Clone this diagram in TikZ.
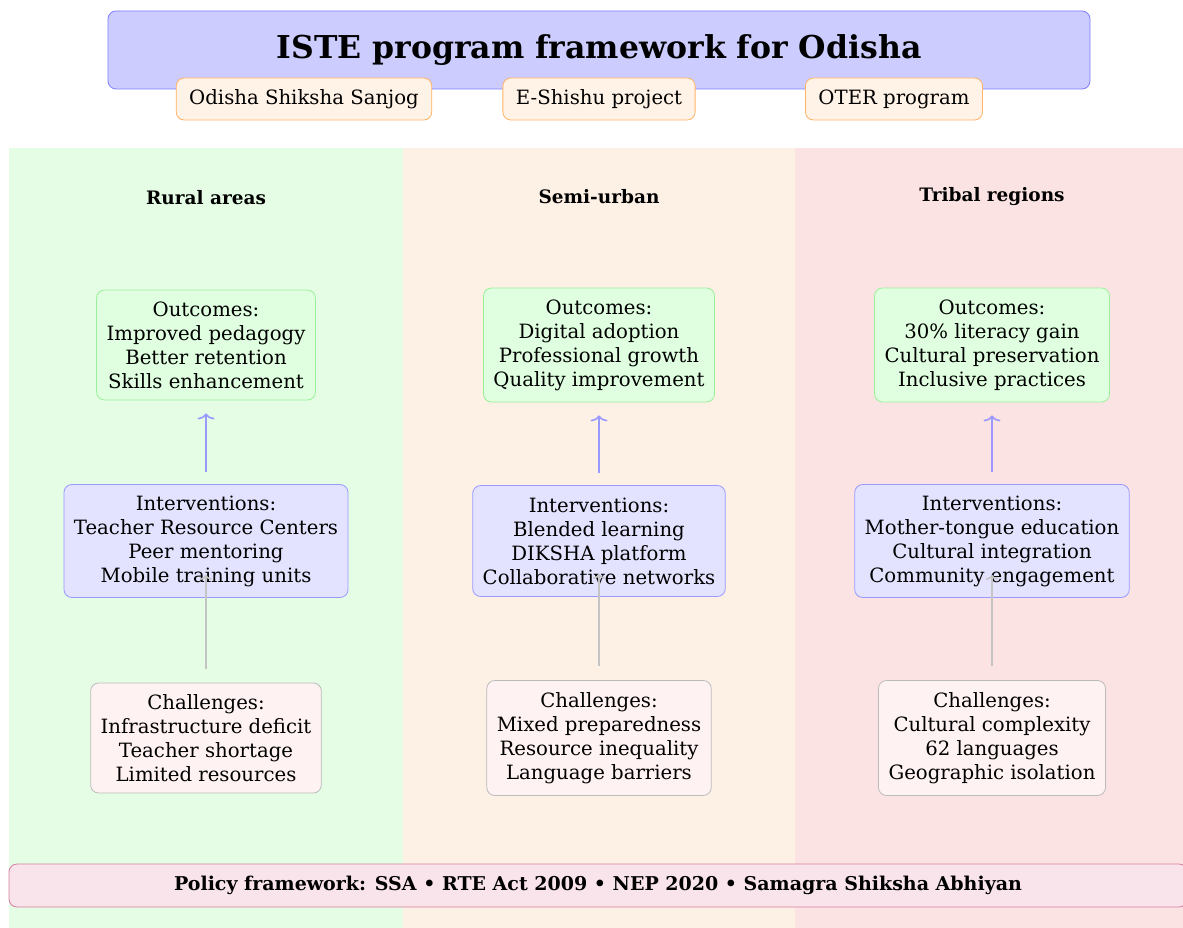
\documentclass[tikz,border=0pt]{standalone}
\usepackage{fontspec}
\setmainfont{DejaVu Serif}
\usetikzlibrary{arrows.meta}
\definecolor{titlefill}{HTML}{CCCCFF}
\definecolor{titledraw}{HTML}{7F7FFF}
\definecolor{subfill}{HTML}{FFF2E6}
\definecolor{subdraw}{HTML}{FFB366}
\definecolor{bggreen}{HTML}{E5FDE5}
\definecolor{bgorange}{HTML}{FDF0E5}
\definecolor{bgred}{HTML}{FCE3E3}
\definecolor{outfill}{HTML}{E0FFE0}
\definecolor{outdraw}{HTML}{99F099}
\definecolor{intfill}{HTML}{E3E3FF}
\definecolor{intdraw}{HTML}{9999FF}
\definecolor{chfill}{HTML}{FFF2F2}
\definecolor{chdraw}{HTML}{BBBBBB}
\definecolor{polfill}{HTML}{F8E4EA}
\definecolor{poldraw}{HTML}{D87FA0}
\definecolor{arrblue}{HTML}{9999FF}
\definecolor{arrgray}{HTML}{C4C4C4}
\begin{document}
\begin{tikzpicture}[x=1pt,y=-1pt,
  body/.style={font=\fontsize{19.7}{24}\selectfont, align=center},
  box/.style={body, rounded corners=8pt, line width=0.8pt, inner xsep=10pt, inner ysep=6pt},
  titlebox/.style={rounded corners=8pt, line width=0.8pt, fill=titlefill, draw=titledraw,
     minimum width=982pt, minimum height=78pt, font=\fontsize{31.5}{36}\selectfont\bfseries},
  subbox/.style={box, fill=subfill, draw=subdraw, minimum height=42pt, inner ysep=4pt, inner xsep=13pt},
  header/.style={font=\fontsize{18.5}{22}\selectfont\bfseries, anchor=base},
  outbox/.style={box, fill=outfill, draw=outdraw, minimum height=110pt},
  intbox/.style={box, fill=intfill, draw=intdraw, minimum height=113pt},
  chbox/.style={box, fill=chfill, draw=chdraw, minimum height=112pt},
  polbox/.style={rounded corners=8pt, line width=0.8pt, fill=polfill, draw=poldraw,
     minimum width=1178pt, minimum height=43pt, font=\fontsize{19}{22}\selectfont\bfseries},
  uparrow/.style={draw=arrblue, line width=1.6pt, -{To[length=6pt,width=17pt]}},
  grayarrow/.style={draw=arrgray, line width=1.6pt, -{To[length=5pt,width=12pt]}}
]
\useasboundingbox (0,0) rectangle (1183,928);
\fill[white] (0,0) rectangle (1183,928);
% column backgrounds
\fill[bggreen] (9,148) rectangle (403,928);
\fill[bgorange] (403,148) rectangle (795,928);
\fill[bgred] (795,148) rectangle (1183,928);

% title
\node[titlebox] (title) at (599,50) {\raisebox{3pt}{ISTE program framework for Odisha}};
\node[subbox] (s1) at (304,99) {Odisha Shiksha Sanjog};
\node[subbox] (s2) at (599,99) {E-Shishu project};
\node[subbox] (s3) at (894,99) {OTER program};

% headers
\node[header] (h1) at (206,205) {Rural areas};
\node[header] (h2) at (599,204) {Semi-urban};
\node[header] (h3) at (992,202) {Tribal regions};

% outcomes
\node[outbox] (o1) at (206,345) {Outcomes:\\Improved pedagogy\\Better retention\\Skills enhancement};
\node[outbox, minimum height=114pt] (o2) at (599,345) {Outcomes:\\Digital adoption\\Professional growth\\Quality improvement};
\node[outbox, minimum height=114pt] (o3) at (992,345) {Outcomes:\\30\% literacy gain\\Cultural preservation\\Inclusive practices};

% interventions
\node[intbox] (i1) at (206,541) {Interventions:\\Teacher Resource Centers\\Peer mentoring\\Mobile training units};
\node[intbox, minimum height=111pt] (i2) at (599,541) {Interventions:\\Blended learning\\DIKSHA platform\\Collaborative networks};
\node[intbox] (i3) at (992,541) {Interventions:\\Mother-tongue education\\Cultural integration\\Community engagement};

% challenges
\node[chbox, minimum height=110pt] (c1) at (206,738) {Challenges:\\Infrastructure deficit\\Teacher shortage\\Limited resources};
\node[chbox, minimum height=115pt] (c2) at (599,738) {Challenges:\\Mixed preparedness\\Resource inequality\\Language barriers};
\node[chbox, minimum height=115pt] (c3) at (992,738) {Challenges:\\Cultural complexity\\62 languages\\Geographic isolation};

% policy bar
\node[polbox] (pol) at (598,885.5) {Policy framework: SSA • RTE Act 2009 • NEP 2020 • Samagra Shiksha Abhiyan};

% connectors
\foreach \n in {1,2,3}{
  \draw[uparrow, shorten <=12pt, shorten >=13pt] (i\n.north) -- (o\n.south);
  \draw[grayarrow, shorten <=14pt, shorten >=-23pt] (c\n.north) -- (i\n.south);
}
\end{tikzpicture}
\end{document}
